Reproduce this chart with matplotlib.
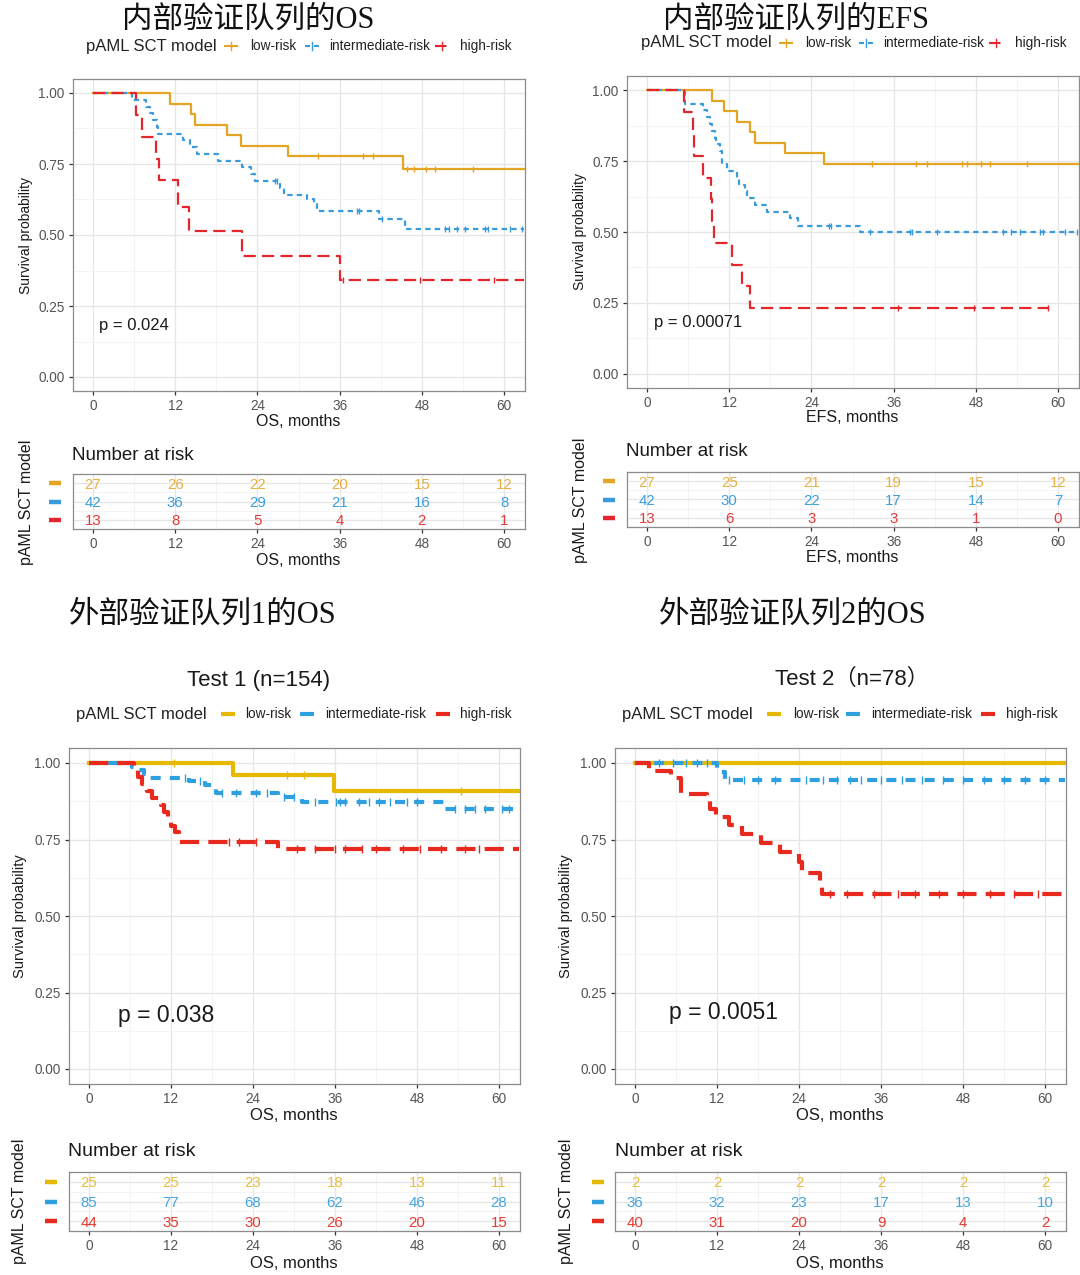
import numpy as np
import matplotlib
matplotlib.use('Agg')
import matplotlib.pyplot as plt
from matplotlib.lines import Line2D
from matplotlib.ticker import MultipleLocator

plt.rcParams['font.family'] = ['Liberation Sans', 'Noto Sans CJK SC', 'DejaVu Sans']

# ---------------- data ----------------
groups = ['low-risk', 'intermediate-risk', 'high-risk']
table_times = [0, 12, 24, 36, 48, 60]

# Panel 1: internal validation OS
p1_low_t = [11.2, 14.3, 14.9, 19.6, 21.6, 28.5, 45.3]
p1_low_s = [0.963, 0.926, 0.889, 0.852, 0.815, 0.778, 0.733]
p1_low_c = [32.8, 39.4, 40.9, 45.8, 46.8, 48.6, 49.9, 55.5]
p1_int_t = [5.7, 7.8, 8.3, 8.8, 9.3, 9.5, 13.2, 14.2, 15.2, 18.3, 21.7, 23.0, 23.7,
            27.3, 27.9, 31.2, 32.2, 32.7, 41.8, 45.5]
p1_int_s = [0.976, 0.952, 0.929, 0.905, 0.881, 0.857, 0.833, 0.810, 0.786, 0.762, 0.738,
            0.714, 0.690, 0.667, 0.640, 0.627, 0.610, 0.586, 0.557, 0.522]
p1_int_c = [26.6, 26.9, 38.5, 38.8, 42.2, 51.4, 51.9, 53.1, 54.3, 57.2, 57.7, 60.9, 62.6]
p1_high_t = [6.3, 7.1, 9.2, 9.7, 12.4, 14.0, 21.7, 36.0]
p1_high_s = [0.923, 0.846, 0.769, 0.692, 0.598, 0.513, 0.427, 0.341]
p1_high_c = [36.5, 47.7, 58.5]
p1_end = [62.9, 62.9, 62.9]
p1_pval = 'p = 0.024'
p1_risk_low = [27, 26, 22, 20, 15, 12]
p1_risk_int = [42, 36, 29, 21, 16, 8]
p1_risk_high = [13, 8, 5, 4, 2, 1]

# Panel 2: internal validation EFS
p2_low_t = [9.5, 11.3, 13.1, 15.0, 15.7, 20.2, 25.8]
p2_low_s = [0.963, 0.926, 0.889, 0.852, 0.815, 0.778, 0.741]
p2_low_c = [32.8, 39.3, 40.9, 46.0, 46.7, 48.7, 50.0, 55.5]
p2_int_t = [5.5, 8.2, 8.7, 9.2, 9.5, 9.9, 10.0, 10.7, 10.9, 11.0, 11.6, 13.1, 13.4,
            14.3, 14.6, 15.8, 17.5, 20.9, 22.1, 31.1]
p2_int_s = [0.953, 0.929, 0.905, 0.881, 0.857, 0.833, 0.810, 0.786, 0.762, 0.738, 0.714,
            0.690, 0.667, 0.643, 0.619, 0.595, 0.571, 0.548, 0.522, 0.499]
p2_int_c = [26.6, 26.9, 32.5, 38.4, 38.7, 42.3, 52.0, 53.2, 54.4, 57.3, 57.8, 61.0, 62.7]
p2_high_t = [5.4, 6.7, 6.9, 8.2, 9.3, 9.5, 9.8, 12.4, 13.8, 15.0]
p2_high_s = [0.923, 0.846, 0.769, 0.692, 0.615, 0.538, 0.462, 0.385, 0.308, 0.231]
p2_high_c = [36.6, 47.7, 58.6]
p2_end = [62.9, 62.9, 58.7]
p2_pval = 'p = 0.00071'
p2_risk_low = [27, 25, 21, 19, 15, 12]
p2_risk_int = [42, 30, 22, 17, 14, 7]
p2_risk_high = [13, 6, 3, 3, 1, 0]

# Panel 3: external validation cohort 1 OS (Test 1)
p3_low_t = [21.0, 35.8]
p3_low_s = [0.960, 0.909]
p3_low_c = [12.5, 29.0, 31.5, 54.5]
p3_int_t = [6.3, 7.0, 8.0, 8.8, 14.6, 17.0, 18.2, 18.6, 27.7, 31.1, 52.0]
p3_int_s = [0.988, 0.976, 0.964, 0.952, 0.940, 0.927, 0.914, 0.902, 0.888, 0.873, 0.851]
p3_int_c = [14.0, 16.3, 19.5, 21.5, 24.5, 26.0, 28.5, 30.0, 33.0, 36.2, 36.8, 37.5, 39.5,
            41.0, 42.5, 44.0, 46.5, 48.0, 53.5, 55.0, 56.5, 58.0, 60.5, 61.5]
p3_high_t = [6.6, 7.2, 7.8, 8.5, 9.2, 10.5, 11.0, 11.6, 12.0, 12.6, 13.2, 27.7]
p3_high_s = [0.977, 0.955, 0.932, 0.909, 0.886, 0.864, 0.841, 0.818, 0.795, 0.773, 0.743, 0.719]
p3_high_c = [20.5, 22.0, 24.5, 30.5, 33.0, 36.0, 37.5, 40.0, 42.0, 46.0, 48.5, 51.5, 55.0, 57.0]
p3_end = [62.9, 62.9, 62.9]
p3_pval = 'p = 0.038'
p3_risk_low = [25, 25, 23, 18, 13, 11]
p3_risk_int = [85, 77, 68, 62, 46, 28]
p3_risk_high = [44, 35, 30, 26, 20, 15]

# Panel 4: external validation cohort 2 OS (Test 2)
p4_low_t = []
p4_low_s = []
p4_low_c = []
p4_int_t = [12.0, 13.1]
p4_int_s = [0.972, 0.944]
p4_int_c = [3.5, 5.5, 7.5, 9.0, 10.5, 13.8, 16.0, 18.0, 20.5, 25.0, 27.5, 29.5, 31.5, 33.0,
            36.0, 39.0, 42.0, 45.0, 48.0, 51.0, 54.0, 57.0, 60.0]
p4_high_t = [2.1, 5.3, 6.7, 6.8, 10.6, 11.0, 11.9, 13.8, 15.7, 18.5, 21.2, 24.0, 24.4, 27.0, 27.4]
p4_high_s = [0.975, 0.950, 0.925, 0.900, 0.875, 0.850, 0.825, 0.797, 0.768, 0.739, 0.710,
             0.675, 0.640, 0.607, 0.573]
p4_high_c = [28.5, 31.0, 35.0, 38.5, 41.0, 44.5, 48.0, 52.0, 55.5, 59.0]
p4_end = [62.9, 62.9, 62.9]
p4_pval = 'p = 0.0051'
p4_risk_low = [2, 2, 2, 2, 2, 2]
p4_risk_int = [36, 32, 23, 17, 13, 10]
p4_risk_high = [40, 31, 20, 9, 4, 2]

# ---------------- styling ----------------
top_colors = ['#E5A524', '#3A9BDC', '#E3262B']
bot_colors = ['#E7B800', '#2E9FDF', '#E8291E']
tab_colors_top = ['#E8B040', '#3A9FDC', '#E33A3A']
tab_colors_bot = ['#E8BE40', '#45A5DE', '#E53A30']
top_ls = ['-', (0, (2.4, 1.9)), (0, (5.5, 2.8))]
bot_ls = ['-', (0, (2.4, 2.2)), (0, (4.6, 2.2))]
title_family = ['Liberation Serif', 'Noto Sans CJK SC', 'DejaVu Sans']

W, H = 1080, 1275
fig = plt.figure(figsize=(W / 100, H / 100), dpi=100)


def ax_px(x0, y0, x1, y1):
    return fig.add_axes([x0 / W, 1 - y1 / H, (x1 - x0) / W, (y1 - y0) / H])


def ftext(x, y, s, **kw):
    kw.setdefault('ha', 'left')
    kw.setdefault('va', 'center')
    kw.setdefault('color', '#1a1a1a')
    fig.text(x / W, 1 - y / H, s, **kw)


def surv_at(t, s, c):
    idx = np.searchsorted(np.asarray(t), c, side='right')
    return 1.0 if idx == 0 else s[idx - 1]


def km(ax, t, s, cens, end, color, ls, lw, ms, mew):
    last = s[-1] if len(s) else 1.0
    x = np.concatenate([[0.0], np.asarray(t, float), [end]])
    y = np.concatenate([[1.0], np.asarray(s, float), [last]])
    ax.step(x, y, where='post', color=color, ls=ls, lw=lw, zorder=3)
    if len(cens):
        cy = [surv_at(t, s, c) for c in cens]
        ax.plot(cens, cy, ls='none', marker='|', ms=ms, mew=mew, color=color, zorder=4)


def style_common(ax):
    ax.set_xlim(-3, 63)
    ax.set_xticks(table_times)
    ax.xaxis.set_minor_locator(MultipleLocator(6))
    ax.grid(which='major', color='#E6E6E6', lw=0.9)
    ax.grid(which='minor', color='#F0F0F0', lw=0.5)
    ax.set_axisbelow(True)
    ax.tick_params(which='minor', length=0)
    ax.tick_params(which='major', length=3.2, width=0.9, color='#333333',
                   labelcolor='#555555', labelsize=9.8, pad=2.5)
    for sp in ax.spines.values():
        sp.set_color('#8C8C8C')
        sp.set_linewidth(0.9)


def main_panel(box, curves, colors, lss, lw, ms, pval, pxy, psize):
    ax = ax_px(*box)
    style_common(ax)
    ax.set_ylim(-0.05, 1.05)
    ax.set_yticks([0, 0.25, 0.5, 0.75, 1.0])
    ax.set_yticklabels(['0.00', '0.25', '0.50', '0.75', '1.00'])
    ax.yaxis.set_minor_locator(MultipleLocator(0.125))
    for (t, s, c, e), col, ls in zip(curves, colors, lss):
        km(ax, t, s, c, e, col, ls, lw, ms, 1.0)
    ax.text(pxy[0], pxy[1], pval, fontsize=psize, color='#1a1a1a', ha='left', va='center')
    return ax


def risk_table(box, risks, colors, key_x, key_colors):
    ax = ax_px(*box)
    style_common(ax)
    ax.set_ylim(0.5, 3.5)
    ax.set_yticks([1, 2, 3])
    ax.set_yticklabels([])
    ax.yaxis.set_minor_locator(MultipleLocator(0.5))
    ax.tick_params(axis='y', which='both', length=0)
    for row, (vals, col) in enumerate(zip(risks, colors)):
        yy = 3 - row
        for xv, v in zip(table_times, vals):
            ax.text(xv, yy, str(v), color=col, ha='center', va='center_baseline', fontsize=10.8)
    # coloured group keys left of the table (ggplot y tick labels)
    y0, y1 = box[1], box[3]
    for row, col in enumerate(key_colors):
        yy = 3 - row
        ypx = y0 + (3.5 - yy) / 3.0 * (y1 - y0)
        fig.add_artist(Line2D([key_x[0] / W, key_x[1] / W], [1 - ypx / H] * 2,
                              color=col, lw=3.2, solid_capstyle='butt'))
    return ax


def legend(y, title_x, keys, labels_x, colors, lss, lw, tick):
    ftext(title_x, y, 'pAML SCT model', fontsize=12, color='#222222')
    for kx, lx, lab, col, ls in zip(keys, labels_x, groups, colors, lss):
        fig.add_artist(Line2D([(kx - 7) / W, (kx + 7) / W], [1 - y / H] * 2,
                              color=col, ls=ls, lw=lw, solid_capstyle='butt'))
        if tick:
            fig.add_artist(Line2D([kx / W, kx / W], [1 - (y - 4) / H, 1 - (y + 4) / H],
                                  color=col, lw=1.0))
        ftext(lx, y, lab, fontsize=9.8, color='#222222')


def title(xc, baseline, s):
    ftext(xc, baseline, s, fontsize=22, ha='center', va='baseline', family=title_family,
          color='#111111')


# ---------------- panel 1 ----------------
c1 = [(p1_low_t, p1_low_s, p1_low_c, p1_end[0]),
      (p1_int_t, p1_int_s, p1_int_c, p1_end[1]),
      (p1_high_t, p1_high_s, p1_high_c, p1_end[2])]
main_panel((72.5, 78.8, 524.6, 391.2), c1, top_colors, top_ls, 1.6, 5, p1_pval, (0.9, 0.183), 12)
risk_table((72.5, 474, 524.6, 529), [p1_risk_low, p1_risk_int, p1_risk_high],
           tab_colors_top, (49, 61), top_colors)
title(248, 28, '内部验证队列的OS')
legend(46, 86, [231, 312, 442], [250, 329, 460], top_colors, top_ls, 1.5, True)
ftext(26, 235, 'Survival probability', fontsize=10, rotation=90, ha='center')
ftext(298, 421, 'OS, months', fontsize=11.5, ha='center')
ftext(72, 455, 'Number at risk', fontsize=13.5)
ftext(26, 502, 'pAML SCT model', fontsize=11.5, rotation=90, ha='center')
ftext(298, 561, 'OS, months', fontsize=11.5, ha='center')

# ---------------- panel 2 ----------------
c2 = [(p2_low_t, p2_low_s, p2_low_c, p2_end[0]),
      (p2_int_t, p2_int_s, p2_int_c, p2_end[1]),
      (p2_high_t, p2_high_s, p2_high_c, p2_end[2])]
main_panel((626.5, 76, 1078.6, 388), c2, top_colors, top_ls, 1.6, 5, p2_pval, (1.0, 0.18), 12)
risk_table((626.5, 472, 1078.6, 527), [p2_risk_low, p2_risk_int, p2_risk_high],
           tab_colors_top, (603, 615), top_colors)
title(796, 28, '内部验证队列的EFS')
legend(43, 641, [786, 866, 996], [805, 883, 1015], top_colors, top_ls, 1.5, True)
ftext(580, 232, 'Survival probability', fontsize=10, rotation=90, ha='center')
ftext(852, 418, 'EFS, months', fontsize=11.5, ha='center')
ftext(626, 452, 'Number at risk', fontsize=13.5)
ftext(580, 500, 'pAML SCT model', fontsize=11.5, rotation=90, ha='center')
ftext(852, 558, 'EFS, months', fontsize=11.5, ha='center')

# ---------------- panel 3 ----------------
c3 = [(p3_low_t, p3_low_s, p3_low_c, p3_end[0]),
      (p3_int_t, p3_int_s, p3_int_c, p3_end[1]),
      (p3_high_t, p3_high_s, p3_high_c, p3_end[2])]
main_panel((68.5, 747.7, 519.5, 1084.3), c3, bot_colors, bot_ls, 3.0, 6, p3_pval, (4.2, 0.176), 16.5)
risk_table((68.5, 1172, 519.5, 1231), [p3_risk_low, p3_risk_int, p3_risk_high],
           tab_colors_bot, (45, 57), bot_colors)
title(203, 623, '外部验证队列1的OS')
ftext(259, 681, 'Test 1 (n=154)', fontsize=16, ha='center')
legend(714, 76, [228, 307, 443], [245, 325, 460], bot_colors, ['-', '-', '-'], 3.0, False)
ftext(20, 916, 'Survival probability', fontsize=10.5, rotation=90, ha='center')
ftext(294, 1116, 'OS, months', fontsize=12, ha='center')
ftext(68, 1151, 'Number at risk', fontsize=14)
ftext(20, 1201, 'pAML SCT model', fontsize=11.5, rotation=90, ha='center')
ftext(294, 1264, 'OS, months', fontsize=12, ha='center')

# ---------------- panel 4 ----------------
c4 = [(p4_low_t, p4_low_s, p4_low_c, p4_end[0]),
      (p4_int_t, p4_int_s, p4_int_c, p4_end[1]),
      (p4_high_t, p4_high_s, p4_high_c, p4_end[2])]
main_panel((614.5, 747.7, 1065.5, 1084.3), c4, bot_colors, bot_ls, 3.0, 6, p4_pval, (5.0, 0.186), 16.5)
risk_table((614.5, 1172, 1065.5, 1231), [p4_risk_low, p4_risk_int, p4_risk_high],
           tab_colors_bot, (592, 604), bot_colors)
title(793, 623, '外部验证队列2的OS')
ftext(852, 679, 'Test 2（n=78）', fontsize=16, ha='center')
legend(714, 622, [774, 853, 988], [793, 871, 1006], bot_colors, ['-', '-', '-'], 3.0, False)
ftext(566, 916, 'Survival probability', fontsize=10.5, rotation=90, ha='center')
ftext(840, 1116, 'OS, months', fontsize=12, ha='center')
ftext(615, 1151, 'Number at risk', fontsize=14)
ftext(566, 1201, 'pAML SCT model', fontsize=11.5, rotation=90, ha='center')
ftext(840, 1264, 'OS, months', fontsize=12, ha='center')

fig.savefig('out.png', dpi=100, facecolor='white')
